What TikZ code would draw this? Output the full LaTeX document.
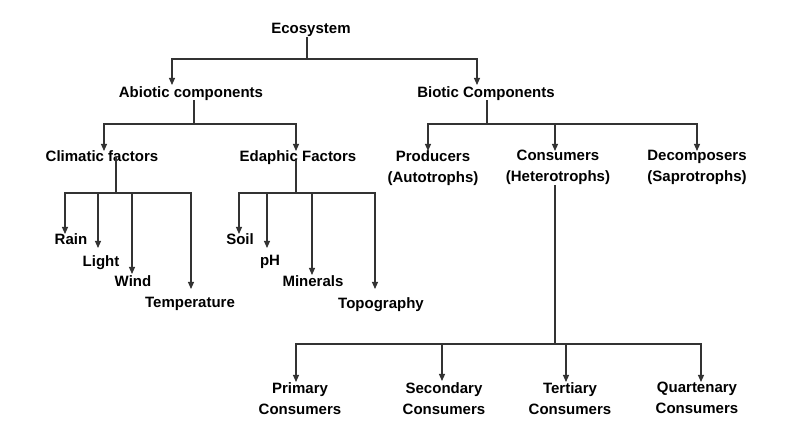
\documentclass[tikz,border=0pt]{standalone}
\usepackage{fontspec}
\setmainfont{Liberation Sans}
\usetikzlibrary{arrows.meta}
\tikzset{
	lbl/.style={anchor=north, inner sep=0pt, align=center, font=\bfseries\fontsize{15}{21}\selectfont},
	link/.style={draw=black!80, line width=1.1pt},
	arrow/.style={link, -{Triangle[length=7pt,width=6pt]}},
}
\begin{document}
\begin{tikzpicture}[x=1pt,y=-1pt]
		\useasboundingbox (0,0) rectangle (793,443);
		
		% root
		\node[lbl] (eco) at (311,23) {Ecosystem};
		
		\node[lbl] (abio) at (191,86) {Abiotic components};
		\node[lbl] (bio) at (486,86) {Biotic Components};
		
		% abiotic
		\node[lbl] (clim) at (102,150) {Climatic factors};
		\node[lbl] (edap) at (298,150) {Edaphic Factors};
		
		\node[lbl] (rain) at (71,233) {Rain};
		\node[lbl] (light) at (101,255) {Light};
		\node[lbl] (wind) at (133,275) {Wind};
		\node[lbl] (temp) at (190,297) {Temperature};
		
		\node[lbl] (soil) at (240,233) {Soil};
		\node[lbl] (ph) at (270,255) {pH};
		\node[lbl] (mine) at (313,275) {Minerals};
		\node[lbl] (topo) at (381,297) {Topography};
		
		% biotic
		\node[lbl] (prod) at (433,150) {Producers\\(Autotrophs)};
		\node[lbl] (cons) at (558,150) {Consumers\\(Heterotrophs)};
		\node[lbl] (deco) at (697,150) {Decomposers\\(Saprotrophs)};
		
		\node[lbl] (prim) at (300,382) {Primary\\Consumers};
		\node[lbl] (seco) at (444,382) {Secondary\\Consumers};
		\node[lbl] (tert) at (570,382) {Tertiary\\Consumers};
		\node[lbl] (quar) at (697,382) {Quartenary\\Consumers};
		
		% junctions and arrow tips
		\coordinate (j0) at (307,59);
		\coordinate (t-abio) at (172,85);
		\coordinate (t-bio) at (477,85);
		
		\coordinate (j1) at (194,124);
		\coordinate (t-clim) at (104,151);
		\coordinate (t-edap) at (296,151);
		
		\coordinate (j2) at (487,124);
		\coordinate (t-prod) at (428,151);
		\coordinate (t-cons) at (555,151);
		\coordinate (t-deco) at (697,151);
		
		\coordinate (j3) at (116,193);
		\coordinate (t-rain) at (65,234);
		\coordinate (t-light) at (98,248);
		\coordinate (t-wind) at (132,274);
		\coordinate (t-temp) at (191,289);
		
		\coordinate (j4) at (296,193);
		\coordinate (t-soil) at (239,234);
		\coordinate (t-ph) at (267,248);
		\coordinate (t-mine) at (312,275);
		\coordinate (t-topo) at (375,289);
		
		\coordinate (j5) at (555,344);
		\coordinate (t-prim) at (296,382);
		\coordinate (t-seco) at (442,381);
		\coordinate (t-tert) at (566,382);
		\coordinate (t-quar) at (701,382);
		
		% connectors
		\draw[link] (eco.south -| j0) -- (j0);
		\draw[arrow] (j0) -| (t-abio);
		\draw[arrow] (j0) -| (t-bio);
		
		\draw[link] (abio.south -| j1) -- (j1);
		\draw[arrow] (j1) -| (t-clim);
		\draw[arrow] (j1) -| (t-edap);
		
		\draw[link] (bio.south -| j2) -- (j2);
		\draw[arrow] (j2) -| (t-prod);
		\draw[arrow] (j2) -| (t-cons);
		\draw[arrow] (j2) -| (t-deco);
		
		\draw[link] ([yshift=4pt]clim.south -| j3) -- (j3);
		\draw[arrow] (j3) -| (t-rain);
		\draw[arrow] (j3) -| (t-light);
		\draw[arrow] (j3) -| (t-wind);
		\draw[arrow] (j3) -| (t-temp);
		
		\draw[link] ([yshift=4pt]edap.south -| j4) -- (j4);
		\draw[arrow] (j4) -| (t-soil);
		\draw[arrow] (j4) -| (t-ph);
		\draw[arrow] (j4) -| (t-mine);
		\draw[arrow] (j4) -| (t-topo);
		
		\draw[link] (cons.south -| j5) -- (j5);
		\draw[arrow] (j5) -| (t-prim);
		\draw[arrow] (j5) -| (t-seco);
		\draw[arrow] (j5) -| (t-tert);
		\draw[arrow] (j5) -| (t-quar);
		
	\end{tikzpicture}
\end{document}
